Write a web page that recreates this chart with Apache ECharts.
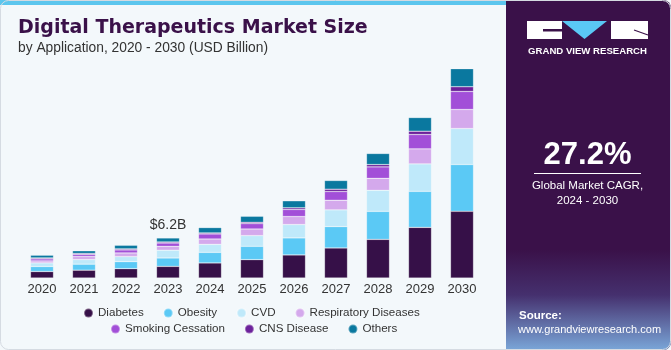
<!DOCTYPE html>
<html><head><meta charset="utf-8">
<script src="https://cdn.jsdelivr.net/npm/echarts@6/dist/echarts.min.js"></script>
<style>html,body{margin:0;padding:0;background:#fff}#c{width:671px;height:350px}</style>
</head><body><div id="c"></div>
<script>
const years = ['2020','2021','2022','2023','2024','2025','2026','2027','2028','2029','2030'];
const diabetes = [1.00,1.21,1.44,1.80,2.33,2.84,3.57,4.65,5.98,7.84,10.33];
const obesity  = [0.78,0.93,1.09,1.30,1.64,2.07,2.64,3.31,4.34,5.58,7.24];
const cvd      = [0.56,0.72,0.78,1.20,1.24,1.65,2.07,2.59,3.26,4.25,5.58];
const resp     = [0.31,0.47,0.57,0.60,0.83,1.03,1.24,1.49,1.86,2.33,2.95];
const smoking  = [0.31,0.31,0.47,0.52,0.78,0.83,1.09,1.35,1.77,2.22,2.79];
const cns      = [0.15,0.16,0.16,0.16,0.16,0.21,0.26,0.36,0.36,0.51,0.73];
const others   = [0.42,0.42,0.56,0.62,0.83,0.93,1.09,1.35,1.71,2.12,2.79];
const seriesNames = ['Diabetes','Obesity','CVD','Respiratory Diseases','Smoking Cessation','CNS Disease','Others'];
const calloutIndex = 3;
const calloutText = '$6.2B';
const cagrText = '27.2%';

const colors = ['#361048','#5bc9f5','#bfe9fa','#d4a9ec','#a24fd8','#6c219b','#0a789f'];
const values = [diabetes, obesity, cvd, resp, smoking, cns, others];
const FONT = '"Liberation Sans", Arial, sans-serif';

const series = seriesNames.map((n, i) => ({
  name: n, type: 'bar', stack: 'total', barWidth: 23,
  itemStyle: {color: colors[i], borderColor: 'rgba(255,255,255,0.35)', borderWidth: 0.6},
  data: values[i].map((v, j) => {
    if (i === seriesNames.length - 1 && j === calloutIndex) {
      return {value: v, label: {show: true, position: 'top', distance: 6, formatter: calloutText,
        color: '#333', fontSize: 14, fontFamily: FONT}};
    }
    return v;
  })
}));

const legendBase = {icon: 'circle', itemWidth: 9, itemHeight: 9, itemGap: 19, padding: 0,
  textStyle: {color: '#333', fontSize: 11.6, fontFamily: FONT}};

const chart = echarts.init(document.getElementById('c'), null, {renderer: 'canvas'});
chart.setOption({
  animation: false,
  backgroundColor: '#f3f8fb',
  color: colors,
  grid: {left: 21, right: 188, top: 52, bottom: 72, containLabel: false},
  xAxis: {type: 'category', data: years,
    axisLine: {show: false}, axisTick: {show: false},
    axisLabel: {color: '#333', fontSize: 13, fontFamily: FONT, margin: 5}},
  yAxis: {type: 'value', min: 0, max: 35, show: false, splitLine: {show: false}},
  legend: [
    Object.assign({}, legendBase, {data: seriesNames.slice(0, 4), left: 83, top: 307}),
    Object.assign({}, legendBase, {data: seriesNames.slice(4), left: 110, top: 323})
  ],
  series: series,
  graphic: [
    {type: 'rect', shape: {x: 0, y: 0, width: 510, height: 5}, style: {fill: '#5cc6ee'}, silent: true},
    {type: 'text', style: {x: 18, y: 28, text: 'Digital Therapeutics Market Size', fill: '#3a1149',
      font: 'bold 19px "DejaVu Sans", sans-serif', verticalAlign: 'middle', textVerticalAlign: 'middle'}},
    {type: 'text', style: {x: 18, y: 48, text: 'by Application, 2020 - 2030 (USD Billion)', fill: '#333',
      font: '13.8px ' + FONT, verticalAlign: 'middle', textVerticalAlign: 'middle'}},
    // right panel
    {type: 'rect', shape: {x: 506, y: 0, width: 165, height: 350, r: [0, 8, 8, 0]}, style: {fill: '#3a1149'}},
    {type: 'rect', shape: {x: 506, y: 250, width: 165, height: 100, r: [0, 0, 8, 0]},
      style: {fill: new echarts.graphic.LinearGradient(0, 0, 0, 1, [
        {offset: 0, color: 'rgba(58,17,73,1)'},
        {offset: 0.45, color: '#45306e'},
        {offset: 1, color: '#7aa6d8'}])}},
    // logo
    {type: 'rect', shape: {x: 527, y: 21, width: 35, height: 18}, style: {fill: '#ffffff'}},
    {type: 'rect', shape: {x: 543, y: 29, width: 19, height: 2.5}, style: {fill: '#3a1149'}},
    {type: 'polygon', shape: {points: [[562, 21], [607, 21], [584.5, 39]]}, style: {fill: '#5ac8f5'}},
    {type: 'rect', shape: {x: 611, y: 21, width: 37, height: 18}, style: {fill: '#ffffff'}},
    {type: 'line', shape: {x1: 634, y1: 30, x2: 648, y2: 35}, style: {stroke: '#3a1149', lineWidth: 1.2}},
    {type: 'text', style: {x: 587.5, y: 51, text: 'GRAND VIEW RESEARCH', fill: '#ffffff',
      font: 'bold 9.6px ' + FONT, align: 'center', textAlign: 'center', verticalAlign: 'middle', textVerticalAlign: 'middle'}},
    {type: 'text', style: {x: 587.5, y: 155, text: cagrText, fill: '#ffffff',
      font: 'bold 31px ' + FONT, align: 'center', textAlign: 'center', verticalAlign: 'middle', textVerticalAlign: 'middle'}},
    {type: 'line', shape: {x1: 534, y1: 173.5, x2: 641, y2: 173.5}, style: {stroke: '#ffffff', lineWidth: 1.2}},
    {type: 'text', style: {x: 587.5, y: 186, text: 'Global Market CAGR,', fill: '#ffffff',
      font: '11.5px ' + FONT, align: 'center', textAlign: 'center', verticalAlign: 'middle', textVerticalAlign: 'middle'}},
    {type: 'text', style: {x: 587.5, y: 201, text: '2024 - 2030', fill: '#ffffff',
      font: '11.5px ' + FONT, align: 'center', textAlign: 'center', verticalAlign: 'middle', textVerticalAlign: 'middle'}},
    {type: 'text', style: {x: 519, y: 316, text: 'Source:', fill: '#ffffff',
      font: 'bold 11.5px ' + FONT, verticalAlign: 'middle', textVerticalAlign: 'middle'}},
    {type: 'text', style: {x: 518, y: 330, text: 'www.grandviewresearch.com', fill: '#ffffff',
      font: '11px ' + FONT, verticalAlign: 'middle', textVerticalAlign: 'middle'}},
    {type: 'rect', shape: {x: 0.5, y: 0.5, width: 670, height: 349, r: 8}, style: {fill: 'none', stroke: '#d5dbe2', lineWidth: 1}, silent: true, z: 100}
  ]
});
</script></body></html>
